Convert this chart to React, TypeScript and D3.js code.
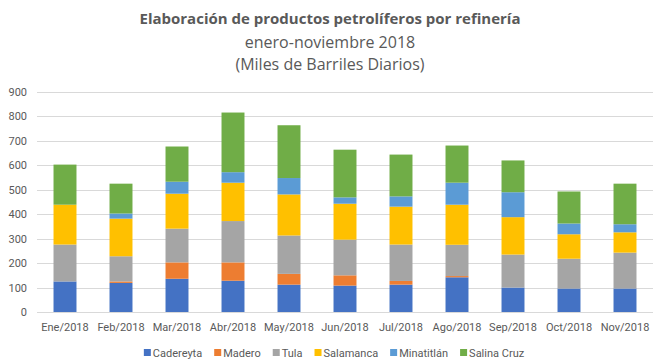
import { useEffect, useRef } from 'react';
import * as d3 from 'd3';

const months = [
  'Ene/2018', 'Feb/2018', 'Mar/2018', 'Abr/2018', 'May/2018', 'Jun/2018',
  'Jul/2018', 'Ago/2018', 'Sep/2018', 'Oct/2018', 'Nov/2018',
];
const refinerias = ['Cadereyta', 'Madero', 'Tula', 'Salamanca', 'Minatitlán', 'Salina Cruz'];
const cadereyta = [125, 119, 136, 128, 112, 108, 112, 142, 100, 96, 96];
const madero = [0, 6, 67, 75, 44, 42, 15, 5, 0, 0, 0];
const tula = [151, 103, 138, 169, 157, 146, 149, 128, 135, 122, 147];
const salamanca = [163, 154, 143, 157, 168, 147, 155, 164, 153, 100, 83];
const minatitlan = [0, 21, 49, 43, 67, 26, 42, 90, 102, 44, 33];
const salinaCruz = [164, 122, 144, 244, 216, 195, 171, 152, 130, 131, 166];
const yTicks = [0, 100, 200, 300, 400, 500, 600, 700, 800, 900];
const colors = ['#4472C4', '#ED7D31', '#A5A5A5', '#FFC000', '#5B9BD5', '#70AD47'];

const FONT = 'Roboto, "Liberation Sans", sans-serif';

const App = () => {
  const ref = useRef<SVGSVGElement>(null!);

  useEffect(() => {
    const width = 663;
    const height = 364;
    const margin = { left: 37, right: 10, top: 92, bottom: 52 };
    const series = [cadereyta, madero, tula, salamanca, minatitlan, salinaCruz];
    const rows = months.map((m, i) => {
      const r: Record<string, number | string> = { month: m };
      refinerias.forEach((k, j) => (r[k] = series[j][i]));
      return r;
    });
    const stacked = d3.stack<Record<string, number | string>>().keys(refinerias)(rows);

    const svg = d3.select(ref.current);
    svg.attr('width', width).attr('height', height);

    const x = d3
      .scaleBand()
      .domain(months)
      .range([margin.left, width - margin.right])
      .paddingInner(0.59)
      .paddingOuter(0.295);
    const y = d3.scaleLinear().domain([0, 900]).range([height - margin.bottom, margin.top]);

    // title
    const title = svg.append('g').attr('font-family', '"Open Sans", sans-serif').attr('fill', '#595959').attr('text-anchor', 'middle');
    title.append('text').attr('x', 330).attr('y', 24).attr('font-size', 15).attr('font-weight', 'bold')
      .text('Elaboración de productos petrolíferos por refinería');
    title.append('text').attr('x', 330).attr('y', 48).attr('font-size', 16).text('enero-noviembre 2018');
    title.append('text').attr('x', 330).attr('y', 70).attr('font-size', 16).text('(Miles de Barriles Diarios)');

    // grid
    svg.append('g')
      .selectAll('line')
      .data(yTicks)
      .enter()
      .append('line')
      .attr('x1', margin.left)
      .attr('x2', width - margin.right)
      .attr('y1', d => Math.round(y(d)) + 0.5)
      .attr('y2', d => Math.round(y(d)) + 0.5)
      .attr('stroke', '#d9d9d9')
      .attr('stroke-width', 1);

    svg.append('g')
      .selectAll('text')
      .data(yTicks)
      .enter()
      .append('text')
      .attr('x', 27)
      .attr('y', d => y(d) + 4)
      .attr('text-anchor', 'end')
      .attr('font-family', FONT)
      .attr('font-size', 11)
      .attr('fill', '#595959')
      .text(d => d);

    // bars
    svg.append('g')
      .selectAll('g')
      .data(stacked)
      .enter()
      .append('g')
      .attr('fill', (_, i) => colors[i])
      .selectAll('rect')
      .data(d => d)
      .enter()
      .append('rect')
      .attr('x', d => x(d.data.month as string)!)
      .attr('width', x.bandwidth())
      .attr('y', d => y(d[1]))
      .attr('height', d => y(d[0]) - y(d[1]));

    // x labels
    svg.append('g')
      .selectAll('text')
      .data(months)
      .enter()
      .append('text')
      .attr('x', d => x(d)! + x.bandwidth() / 2)
      .attr('y', 331)
      .attr('text-anchor', 'middle')
      .attr('font-family', FONT)
      .attr('font-size', 11)
      .attr('fill', '#595959')
      .text(d => d);

    // legend
    const legend = svg.append('g');
    let cx = 0;
    refinerias.forEach((name, i) => {
      const g = legend.append('g').attr('transform', `translate(${cx},0)`);
      g.append('rect').attr('x', 0).attr('y', 349).attr('width', 7).attr('height', 7).attr('fill', colors[i]);
      const t = g.append('text')
        .attr('x', 9)
        .attr('y', 357)
        .attr('font-family', FONT)
        .attr('font-size', 11)
        .attr('fill', '#595959')
        .text(name);
      const w = (t.node() as SVGTextElement).getComputedTextLength();
      cx += 9 + w + 12;
    });
    const total = cx - 12;
    legend.attr('transform', `translate(${334 - total / 2},0)`);

    return () => {
      ref.current.innerHTML = '';
    };
  }, []);

  return <svg ref={ref} style={{ position: 'absolute', left: 0, top: 0, background: '#fff' }}></svg>;
};

export default App;
